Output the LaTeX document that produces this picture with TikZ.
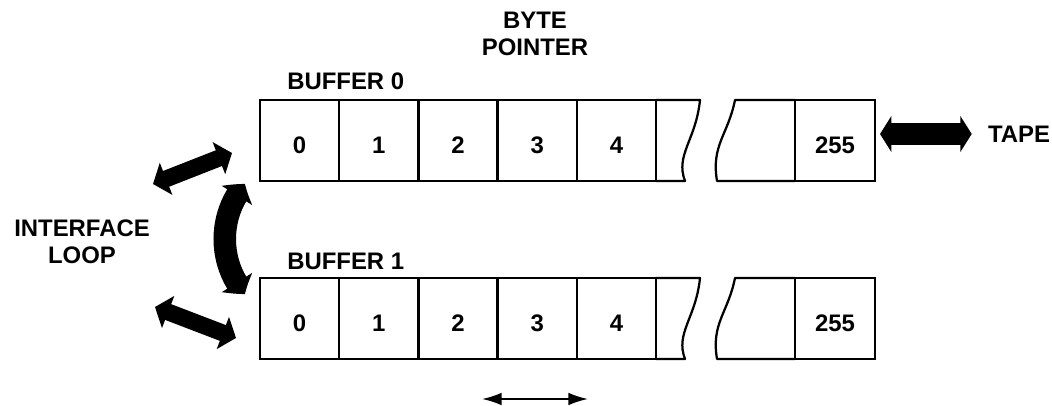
\documentclass[tikz,border=0pt]{standalone}
\usepackage{fontspec}
\setmainfont{Liberation Sans}
\usetikzlibrary{arrows.meta,bending}

\tikzset{
  lbl/.style={font=\fontsize{17}{19}\selectfont\bfseries, inner sep=0pt},
  cell/.style={draw, line width=1.6pt, minimum width=1.98cm, minimum height=2.025cm,
    inner sep=0pt, outer sep=0pt, text height=0.64cm, text depth=0pt,
    font=\fontsize{17}{19}\selectfont\bfseries},
  edge/.style={line width=1.6pt, line join=round},
  fatarrow/.style={line width=15pt, {Triangle[length=8pt,width=25pt]}-{Triangle[length=8pt,width=25pt]}},
  sidearrow/.style={line width=12pt, {Triangle[length=10pt,width=24pt]}-{Triangle[length=10pt,width=24pt]}},
  looparrow/.style={line width=16pt, {Triangle[length=10pt,width=25pt,bend]}-{Triangle[length=10pt,width=25pt,bend]}},
  thinarrow/.style={line width=1.4pt, {Latex[length=14pt,width=9pt]}-{Latex[length=14pt,width=9pt]}}
}

\begin{document}
\begin{tikzpicture}[x=0.025cm, y=-0.025cm]
  \useasboundingbox (0,0) rectangle (1052,406);

  %% Buffers
  \foreach \buf/\y in {a/140.5, b/318.5}{
    \foreach \i in {0,...,4}
      \node[cell] (\buf\i) at ({299.6+79.2*\i},\y) {\i};
    \node[cell, minimum width=2cm] (\buf255) at (835,\y) {255};
    %% torn ends
    \draw[edge] (\buf4.north east) -- (700,{\y-40.5}) .. controls (696,{\y-0.5}) and (675,{\y+14.5}) .. (685,{\y+40.5}) -- (\buf4.south east);
    \draw[edge] (\buf255.north west) -- (735,{\y-40.5}) .. controls (728,{\y-5.5}) and (711,{\y+4.5}) .. (717,{\y+40.5}) -- (\buf255.south west);
  }

  %% Labels
  \node[lbl, align=center] (ptr) at (535,34) {BYTE\\POINTER};
  \node[lbl, anchor=base west] (buf0) at (287,90) {BUFFER 0};
  \node[lbl, anchor=base west] (buf1) at (287,270) {BUFFER 1};
  \node[lbl, align=center] (iface) at (82,241.5) {INTERFACE\\LOOP};
  \node[lbl] (tape) at (1019,134) {TAPE};

  %% Arrow ends
  \coordinate (upL) at (153,184);
  \coordinate (upR) at (232,153);
  \coordinate (loL) at (155,307);
  \coordinate (loR) at (236,338);
  \coordinate (loopT) at (245,184);
  \coordinate (loopB) at (245,294);
  \coordinate (ptrL) at (482,399);
  \coordinate (ptrR) at (588,399);

  %% Arrows
  \draw[fatarrow, shorten <=0.125cm, shorten >=0.4cm] (a255.east |- tape.west) -- (tape.west);
  \draw[sidearrow] (upL) -- (upR);
  \draw[sidearrow] (loL) -- (loR);
  \draw[looparrow] (loopT) .. controls (218,215) and (218,263) .. (loopB);
  \draw[thinarrow] (ptrL) -- (ptrR);

\end{tikzpicture}
\end{document}
